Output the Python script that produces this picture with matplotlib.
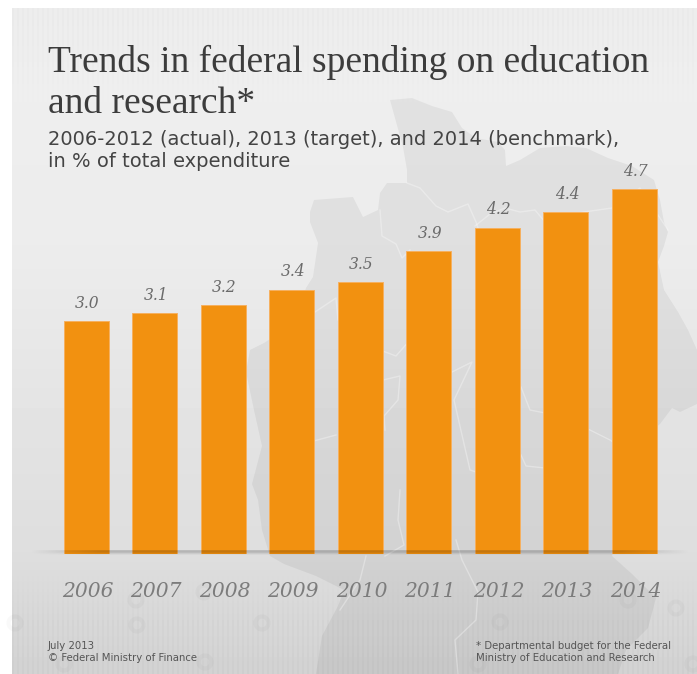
import numpy as np
import matplotlib
matplotlib.use("Agg")
import matplotlib.pyplot as plt
from matplotlib.patches import Polygon, Circle

years = ["2006", "2007", "2008", "2009", "2010", "2011", "2012", "2013", "2014"]
shares = [3.0, 3.1, 3.2, 3.4, 3.5, 3.9, 4.2, 4.4, 4.7]
value_labels = ["3.0", "3.1", "3.2", "3.4", "3.5", "3.9", "4.2", "4.4", "4.7"]

title_lines = ["Trends in federal spending on education", "and research*"]
subtitle_lines = ["2006-2012 (actual), 2013 (target), and 2014 (benchmark),",
                  "in % of total expenditure"]
footer_left = ["July 2013", "\u00a9 Federal Ministry of Finance"]
footer_right = ["* Departmental budget for the Federal",
                "Ministry of Education and Research"]

W, H = 697, 674
fig = plt.figure(figsize=(W / 100, H / 100), dpi=100, facecolor="white")

# Full-figure layer in pixel units for the decorative backdrop
bg = fig.add_axes([0, 0, 1, 1])
bg.axis("off")

# Panel shading: light at the top, darker toward the foot, with fine vertical stripes
rows = np.arange(8, H)
shade = np.interp(rows, [8, 90, 250, 450, 555, 610, 674], [235, 238, 236, 226, 222, 215, 208])
panel = np.tile(shade[:, None], (1, W - 12))
stripe = np.where((np.arange(W - 12) % 5) < 2, -1.0, 1.0)
amount = np.interp(rows, [8, 70, 110, 570, 620, 674], [1.8, 1.0, 0, 0, 1.8, 2.4])
panel = panel + amount[:, None] * stripe[None, :]
bg.imshow(panel, cmap="gray", vmin=0, vmax=255, extent=(12, W, H, 8),
          aspect="auto", interpolation="bilinear", zorder=0)
bg.set_xlim(0, W)
bg.set_ylim(H, 0)

# Faint map silhouette behind the bars
land = [(390, 100), (412, 98), (432, 106), (452, 112), (462, 128), (476, 138), (498, 142),
        (505, 150), (506, 166), (520, 160), (540, 148), (566, 146), (586, 148), (608, 158),
        (632, 166), (654, 180), (660, 200), (664, 222), (668, 232), (664, 246), (658, 262),
        (664, 290), (678, 312), (688, 330), (697, 350), (697, 404), (680, 412), (672, 408),
        (660, 424), (640, 440), (620, 462), (622, 520), (612, 556), (632, 574), (656, 598),
        (648, 628), (626, 650), (618, 674), (316, 674), (322, 636), (338, 606), (344, 590),
        (316, 576), (284, 564), (270, 556), (262, 530), (258, 500), (252, 484), (262, 446),
        (254, 410), (246, 372), (250, 350), (264, 343), (296, 322), (306, 288), (313, 277),
        (318, 243), (310, 222), (310, 212), (314, 200), (353, 197), (363, 217), (378, 210),
        (380, 193), (387, 183), (407, 183), (407, 170), (403, 147)]
bg.add_patch(Polygon(land, closed=True, facecolor="black", edgecolor="none", alpha=0.05, zorder=1))

# Inland borders on the silhouette
borders = [
    [(407, 183), (420, 188), (436, 206), (448, 212), (468, 204), (476, 222), (482, 240)],
    [(380, 210), (382, 236), (396, 244), (402, 258), (410, 250)],
    [(475, 226), (490, 214), (505, 208), (520, 212), (535, 210), (545, 222), (552, 216),
     (570, 214), (612, 208), (640, 188), (668, 230)],
    [(315, 312), (336, 298), (338, 320), (380, 350), (396, 356), (410, 340)],
    [(383, 380), (400, 376), (398, 400), (384, 416), (385, 430)],
    [(452, 372), (472, 362), (454, 400), (470, 470), (476, 472)],
    [(521, 387), (530, 410), (560, 416), (590, 430), (610, 440), (640, 460), (657, 446)],
    [(521, 455), (526, 466), (545, 468)],
    [(336, 435), (310, 442)],
    [(456, 540), (462, 560), (478, 592), (476, 620), (455, 640), (458, 674)],
    [(366, 556), (360, 580), (340, 610)],
    [(400, 490), (398, 520), (404, 545), (385, 556)],
]
for path in borders:
    xs, ys = zip(*path)
    bg.plot(xs, ys, color="white", alpha=0.32, lw=1.0, zorder=2, solid_joinstyle="round")

# Soft ring ornaments in the lower band
rings = [(15, 623), (136, 600), (64, 664), (262, 623), (205, 662), (500, 622), (478, 664),
         (628, 600), (676, 608), (693, 664), (137, 625), (204, 592)]
for cx, cy in rings:
    bg.add_patch(Circle((cx, cy), 6.5, facecolor="none", edgecolor="black", lw=3, alpha=0.025, zorder=2))

# Bars, placed so one category step spans 68.5 pixels and the zero line falls at y=553.5
ax = fig.add_axes([40 / W, 1 - 553.5 / H, 640 / W, 4.9 * 77.6 / H], facecolor="none")
pos = np.arange(len(years))
step = 68.5
centre0 = 86.0
ax.set_xlim((40 - centre0) / step, (680 - centre0) / step)
ax.set_ylim(0, 4.9)
ax.bar(pos, shares, width=45 / step, color="#F29110", edgecolor="#F6B060", linewidth=0.7, zorder=3)
ax.axis("off")

for x, v, txt in zip(pos, shares, value_labels):
    ax.annotate(txt, (x, v), xytext=(1, 9.5), textcoords="offset points", ha="center", va="baseline",
                family="DejaVu Serif", style="italic", fontsize=11.2, color="#6a6a6a", zorder=4)
for x, yr in zip(pos, years):
    ax.annotate(yr, (x, 0), xytext=(1.2, -31), textcoords="offset points", ha="center", va="baseline",
                family="DejaVu Serif", style="italic", fontsize=14.6, color="#7c7c7c", zorder=4)

# Top layer in pixel units: baseline shadow and text
overlay = fig.add_axes([0, 0, 1, 1], facecolor="none")
overlay.axis("off")

# Shadow along the baseline, fading at both ends
band = np.zeros((5, 660, 4))
fade = np.clip(np.minimum(np.arange(660) / 70, (659 - np.arange(660)) / 70), 0, 1)
band[..., 3] = np.array([0.16, 0.20, 0.12, 0.04, 0.0])[:, None] * fade[None, :]
overlay.imshow(band, extent=(30, 690, 556.5, 550.5), aspect="auto", interpolation="bilinear")
overlay.set_xlim(0, W)
overlay.set_ylim(H, 0)

# Heading and notes
for line, y in zip(title_lines, (72, 113)):
    overlay.text(48, y, line, family="Liberation Serif", fontsize=27, color="#3c3c3c", va="baseline")
for line, y in zip(subtitle_lines, (145, 167)):
    overlay.text(48, y, line, family="DejaVu Sans", fontsize=14.05, color="#444444", va="baseline")
for line, y in zip(footer_left, (649, 661)):
    overlay.text(48, y, line, family="DejaVu Sans", fontsize=7.3, color="#555555", va="baseline")
for line, y in zip(footer_right, (649, 661)):
    overlay.text(476, y, line, family="DejaVu Sans", fontsize=7.3, color="#555555", va="baseline")

fig.savefig("out.png", dpi=100, facecolor="white")
